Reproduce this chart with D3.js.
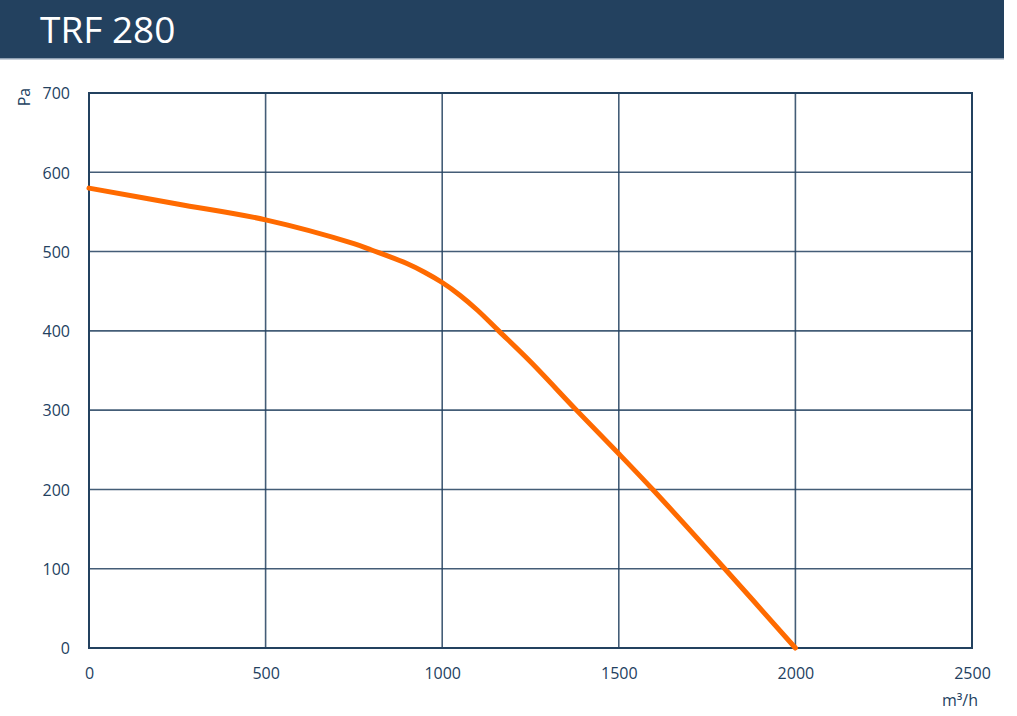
<!DOCTYPE html>
<html>
<head>
<meta charset="utf-8">
<script src="https://cdn.jsdelivr.net/npm/d3@7/dist/d3.min.js"></script>
<style>
  html, body { margin: 0; padding: 0; background: #fff; }
  svg { display: block; }
  text { font-family: "Open Sans", "Noto Sans", sans-serif; }
</style>
</head>
<body>
<script>
const title = "TRF 280";
const xTicks = [0, 500, 1000, 1500, 2000, 2500];
const yTicks = [0, 100, 200, 300, 400, 500, 600, 700];
const flow = [0, 250, 500, 750, 800, 900, 950, 1000, 1050, 1100, 1160, 1250, 1380, 1500, 1600, 1800, 2000];
const pressure = [580, 560, 540, 510, 502, 485, 474, 461, 445, 426, 400, 361, 300, 245, 198, 100, 0];
const xUnit = "m³/h";
const yUnit = "Pa";

const W = 1017, H = 716;
const navy = "#23415f";
const svg = d3.select("body").append("svg").attr("width", W).attr("height", H);

// title bar
svg.append("rect").attr("x", 0).attr("y", 0).attr("width", 1004).attr("height", 59).attr("fill", navy);
svg.append("rect").attr("x", 0).attr("y", 58).attr("width", 1004).attr("height", 1.5).attr("fill", "#8fa0b3");
svg.append("text").attr("x", 40).attr("y", 43).attr("fill", "#fff")
  .attr("font-size", 37).text(title);

const x = d3.scaleLinear().domain([0, 2500]).range([89, 972]);
const y = d3.scaleLinear().domain([0, 700]).range([648, 93]);

const g = svg.append("g");
// grid
g.selectAll("line.vx").data(xTicks).join("line")
  .attr("x1", d => x(d)).attr("x2", d => x(d)).attr("y1", y(0)).attr("y2", y(700))
  .attr("stroke", navy).attr("stroke-width", 1.6).attr("stroke-opacity", 0.85);
g.selectAll("line.hy").data(yTicks).join("line")
  .attr("y1", d => y(d)).attr("y2", d => y(d)).attr("x1", x(0)).attr("x2", x(2500))
  .attr("stroke", navy).attr("stroke-width", 1.6).attr("stroke-opacity", 0.85);
g.append("rect").attr("x", x(0)).attr("y", y(700)).attr("width", x(2500) - x(0)).attr("height", y(0) - y(700))
  .attr("fill", "none").attr("stroke", navy).attr("stroke-width", 2);

// axes labels
const xAxis = d3.axisBottom(x).tickValues(xTicks).tickSize(0).tickPadding(0).tickFormat(d3.format("d"));
const xa = svg.append("g").attr("transform", `translate(0,${y(0) + 20})`).call(xAxis);
xa.select(".domain").remove();
xa.selectAll("text").attr("fill", navy).attr("font-size", 16).attr("dy", "0.71em")
  .attr("font-family", "'Open Sans', sans-serif");

const yAxis = d3.axisLeft(y).tickValues(yTicks).tickSize(0).tickPadding(0).tickFormat(d3.format("d"));
const ya = svg.append("g").attr("transform", `translate(70,0)`).call(yAxis);
ya.select(".domain").remove();
ya.selectAll("text").attr("fill", navy).attr("font-size", 16).attr("dy", "0.36em")
  .attr("font-family", "'Open Sans', sans-serif");

svg.append("text").attr("transform", "translate(30,97) rotate(-90)").attr("text-anchor", "middle")
  .attr("fill", navy).attr("font-size", 16).text(yUnit);
svg.append("text").attr("x", 960).attr("y", 706).attr("text-anchor", "middle")
  .attr("fill", navy).attr("font-size", 16).text(xUnit);

// curve
const data = flow.map((f, i) => ({ f, p: pressure[i] }));
svg.append("path").datum(data)
  .attr("fill", "none").attr("stroke", "#ff6a00").attr("stroke-width", 5).attr("stroke-linecap", "round")
  .attr("d", d3.line().x(d => x(d.f)).y(d => y(d.p)).curve(d3.curveCatmullRom.alpha(0.5)));
</script>
</body>
</html>
